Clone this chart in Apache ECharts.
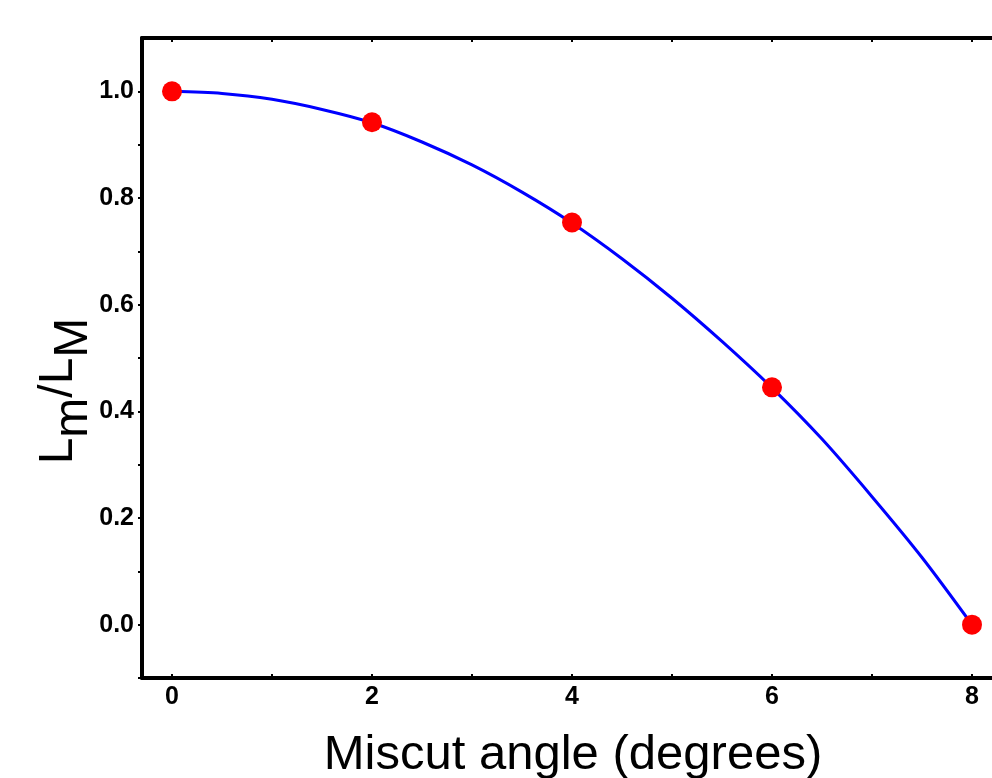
<!DOCTYPE html>
<html>
<head>
<meta charset="utf-8">
<script src="https://cdn.jsdelivr.net/npm/echarts@6/dist/echarts.min.js"></script>
<style>
html,body{margin:0;padding:0;background:#fff;}
#chart{width:992px;height:778px;}
</style>
</head>
<body>
<div id="chart"></div>
<script>
// Measured data points
const pointX = [0, 2, 4, 6, 8];
const pointY = [1.0, 0.942, 0.754, 0.445, 0.0];
// Fitted curve
const fitX = [0, 0.5, 1, 1.5, 2, 2.5, 3, 3.5, 4, 4.5, 5, 5.5, 6, 6.5, 7, 7.5, 8];
const fitY = [1.0, 0.996, 0.985, 0.966, 0.941, 0.905, 0.862, 0.811, 0.753, 0.686, 0.612, 0.531, 0.444, 0.348, 0.240, 0.126, 0.0];
// Tick values
const xTickLabels = [0, 2, 4, 6, 8];
const xTickMarks = [0, 1, 2, 3, 4, 5, 6, 7, 8];
const yTickLabels = [0, 0.2, 0.4, 0.6, 0.8, 1.0];
const yTickMarks = [-0.1, 0, 0.1, 0.2, 0.3, 0.4, 0.5, 0.6, 0.7, 0.8, 0.9, 1.0];
const xTitle = 'Miscut angle (degrees)';
const yTitle = '{a|L}{s|m}{a|/L}{s|M}';

const FONT = '"Liberation Sans", Arial, sans-serif';
const chart = echarts.init(document.getElementById('chart'), null, {renderer: 'canvas'});

const axisLineStyle = {color: '#000', width: 4};
const option = {
  animation: false,
  backgroundColor: '#fff',
  grid: {left: 142, top: 38, width: 890, height: 640, containLabel: false, outerBoundsMode: 'none'},
  xAxis: [{
    type: 'value', position: 'bottom', min: -0.3, max: 8.6,
    axisLine: {show: true, onZero: false, lineStyle: axisLineStyle},
    axisTick: {show: true, inside: true, length: 4, lineStyle: {color: '#000', width: 2}, customValues: xTickMarks},
    axisLabel: {show: true, customValues: xTickLabels, margin: 7, color: '#000', fontSize: 25, fontWeight: 'bold', fontFamily: FONT, formatter: v => String(v)},
    splitLine: {show: false},
    name: xTitle, nameLocation: 'middle', nameGap: 53, nameMoveOverlap: false,
    nameTextStyle: {fontSize: 49, fontFamily: FONT, color: '#000', padding: [0, 28, 0, 0]}
  }, {
    type: 'value', position: 'top', min: -0.3, max: 8.6,
    axisLine: {show: true, onZero: false, lineStyle: axisLineStyle},
    axisTick: {show: true, inside: true, length: 4, lineStyle: {color: '#000', width: 2}, customValues: xTickMarks},
    axisLabel: {show: false},
    splitLine: {show: false}
  }],
  yAxis: [{
    type: 'value', min: -0.1, max: 1.1,
    axisLine: {show: true, onZero: false, lineStyle: axisLineStyle},
    axisTick: {show: true, inside: false, length: 4, lineStyle: {color: '#000', width: 2}, customValues: yTickMarks},
    axisLabel: {show: true, customValues: yTickLabels, margin: 8, color: '#000', fontSize: 25, fontWeight: 'bold', fontFamily: FONT, formatter: v => v.toFixed(1)},
    splitLine: {show: false},
    name: yTitle, nameLocation: 'middle', nameGap: 44, nameRotate: 90, nameMoveOverlap: false,
    nameTextStyle: {
      fontSize: 48, fontFamily: FONT, color: '#000', padding: [0, 66, 0, 0],
      rich: {
        a: {fontSize: 48, fontFamily: FONT, color: '#000', padding: [0, 0, 15, 0], verticalAlign: 'bottom'},
        s: {fontSize: 48, fontFamily: FONT, color: '#000', verticalAlign: 'bottom'}
      }
    }
  }],
  series: [{
    type: 'line', xAxisIndex: 0, yAxisIndex: 0,
    data: fitX.map((x, i) => [x, fitY[i]]),
    smooth: 0.3, showSymbol: false, symbol: 'none',
    lineStyle: {color: '#0000ff', width: 3}, z: 2
  }, {
    type: 'scatter', xAxisIndex: 0, yAxisIndex: 0,
    data: pointX.map((x, i) => [x, pointY[i]]),
    symbol: 'circle', symbolSize: 20,
    itemStyle: {color: '#ff0000', opacity: 1}, z: 3
  }]
};
chart.setOption(option);
</script>
</body>
</html>
